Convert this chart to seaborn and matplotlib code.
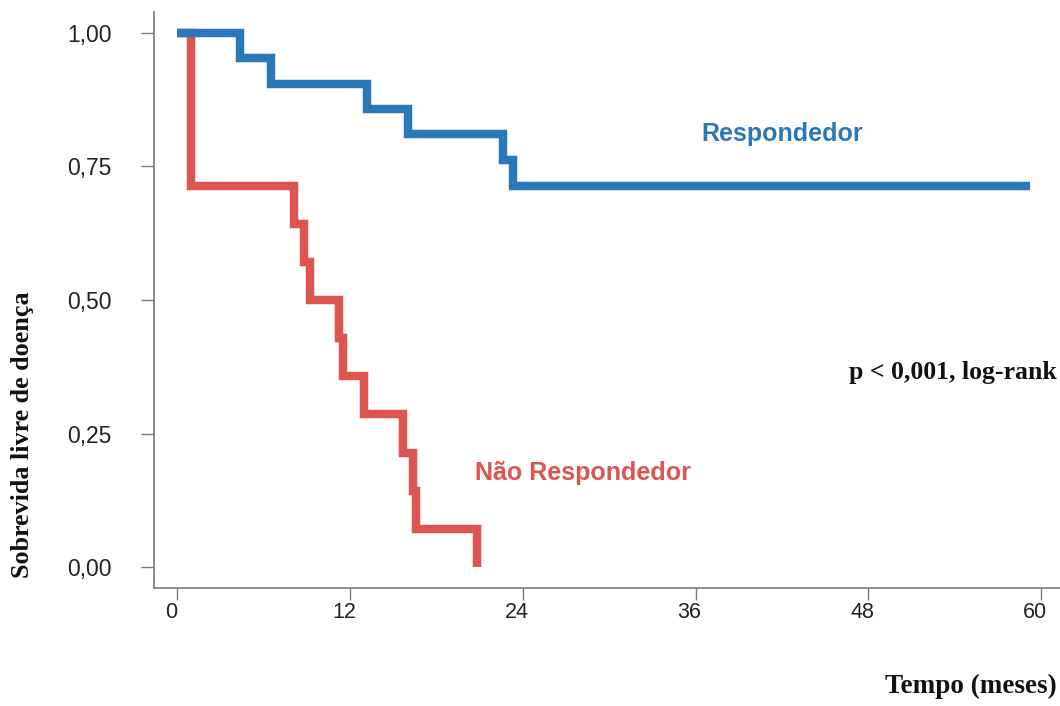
import matplotlib
matplotlib.use("Agg")
import matplotlib.pyplot as plt
import matplotlib.transforms as mtransforms
import seaborn as sns
import pandas as pd

# Kaplan-Meier step estimates (time in months, survival proportion)
resp_time = [0.0, 4.4, 6.5, 13.2, 16.0, 22.6, 23.3, 59.2]
resp_surv = [1.000, 0.952, 0.905, 0.857, 0.810, 0.762, 0.714, 0.714]

nonresp_time = [0.0, 1.0, 8.1, 8.8, 9.2, 11.25, 11.5, 13.0, 15.7, 16.4, 16.6, 20.8]
nonresp_surv = [1.000, 0.714, 0.643, 0.571, 0.500, 0.429, 0.357, 0.286, 0.214, 0.143, 0.071, 0.000]

group_names = ["Respondedor", "Não Respondedor"]
x_ticks = [0, 12, 24, 36, 48, 60]
y_ticks = [0.0, 0.25, 0.50, 0.75, 1.0]
y_tick_labels = ["0,00", "0,25", "0,50", "0,75", "1,00"]

blue = "#2b78b8"
red = "#dc5550"
axis_grey = "#7a7a7a"

df = pd.concat([
    pd.DataFrame({"tempo": resp_time, "sobrevida": resp_surv, "grupo": group_names[0]}),
    pd.DataFrame({"tempo": nonresp_time, "sobrevida": nonresp_surv, "grupo": group_names[1]}),
])

sns.set_theme(style="ticks")
plt.rcParams["font.family"] = ["Liberation Sans", "DejaVu Sans"]

fig = plt.figure(figsize=(10.6, 7.06), dpi=100)
ax = fig.add_axes([0.1453, 0.1671, 0.8547, 0.816])

sns.lineplot(data=df, x="tempo", y="sobrevida", hue="grupo",
             hue_order=[group_names[1], group_names[0]],
             palette={group_names[0]: blue, group_names[1]: red},
             drawstyle="steps-post", linewidth=6.1, legend=False, ax=ax,
             estimator=None, sort=False)
for ln in ax.get_lines():
    ln.set_solid_capstyle("butt")
    ln.set_solid_joinstyle("miter")

ax.set_xlim(-1.6, 61.3)
ax.set_ylim(-0.039, 1.039)
ax.set_xticks(x_ticks)
ax.set_xticklabels([str(t) for t in x_ticks], fontsize=15.5)
ax.set_yticks(y_ticks)
ax.set_yticklabels(y_tick_labels, fontsize=16.5)
ax.tick_params(axis="x", direction="out", length=8.6, width=1, color=axis_grey,
               labelcolor="#222222", pad=1.5)
ax.tick_params(axis="y", direction="out", length=9.5, width=1, color=axis_grey,
               labelcolor="#222222", pad=21)
# x tick labels sit slightly left of their ticks
shift = mtransforms.ScaledTranslation(-6 / 100, 0, fig.dpi_scale_trans)
for lab in ax.get_xticklabels():
    lab.set_transform(lab.get_transform() + shift)

for side in ["top", "right"]:
    ax.spines[side].set_visible(False)
for side in ["left", "bottom"]:
    ax.spines[side].set_color(axis_grey)
    ax.spines[side].set_linewidth(1.2)
ax.set_xlabel("")
ax.set_ylabel("")

ax.text(42.0, 0.81, group_names[0], color=blue, fontsize=18, fontweight="bold",
        ha="center", va="center")
ax.text(28.2, 0.177, group_names[1], color=red, fontsize=18, fontweight="bold",
        ha="center", va="center")
ax.text(61.1, 0.364, "p < 0,001, log-rank", fontsize=18.5, fontweight="bold",
        family="Liberation Serif", ha="right", va="center", color="#111111")

fig.text(0.997, 0.010, "Tempo (meses)", fontsize=19.5, fontweight="bold",
         family="Liberation Serif", ha="right", va="bottom", color="#111111")
fig.text(0.021, 0.385, "Sobrevida livre de doença", fontsize=18.8, fontweight="bold",
         family="Liberation Serif", rotation=90, ha="center", va="center",
         color="#111111")

fig.savefig("out.png", dpi=100)
